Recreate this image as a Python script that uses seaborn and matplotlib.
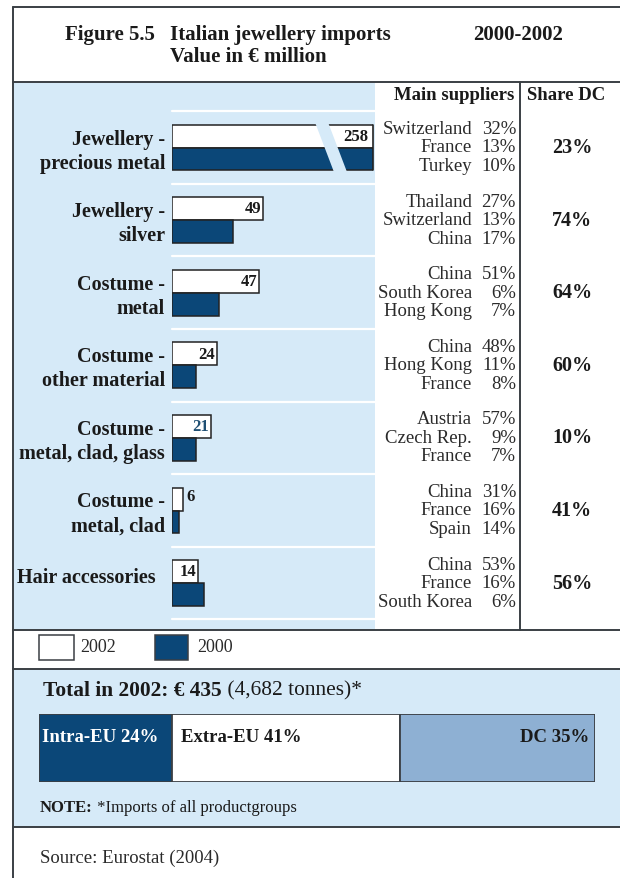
import matplotlib
matplotlib.use("Agg")
import matplotlib.pyplot as plt
from matplotlib.patches import Rectangle, Polygon
import seaborn as sns
import pandas as pd

# ---- data -------------------------------------------------------------
categories = [
    "Jewellery -\nprecious metal",
    "Jewellery -\nsilver",
    "Costume -\nmetal",
    "Costume -\nother material",
    "Costume -\nmetal, clad, glass",
    "Costume -\nmetal, clad",
    "Hair accessories",
]
imports_2002 = [258, 49, 47, 24, 21, 6, 14]
imports_2000 = [240, 33, 25, 13, 13, 4, 17]

supplier_names = [
    ["Switzerland", "France", "Turkey"],
    ["Thailand", "Switzerland", "China"],
    ["China", "South Korea", "Hong Kong"],
    ["China", "Hong Kong", "France"],
    ["Austria", "Czech Rep.", "France"],
    ["China", "France", "Spain"],
    ["China", "France", "South Korea"],
]
supplier_shares = [
    ["32%", "13%", "10%"],
    ["27%", "13%", "17%"],
    ["51%", "6%", "7%"],
    ["48%", "11%", "8%"],
    ["57%", "9%", "7%"],
    ["31%", "16%", "14%"],
    ["53%", "16%", "6%"],
]
share_dc = ["23%", "74%", "64%", "60%", "10%", "41%", "56%"]

origin_labels = ["Intra-EU", "Extra-EU", "DC"]
origin_shares = [24, 41, 35]

years = ["2002", "2000"]

# ---- style ------------------------------------------------------------
sns.set_style("white")
plt.rcParams["font.family"] = ["Liberation Serif", "DejaVu Serif"]

NAVY = "#0b4778"
PANEL = "#d6eaf8"
DC_BLUE = "#8eb0d3"
LINE = "#3a3f44"
TXT = "#1a1a1a"
GREY_TXT = "#2a2a2a"

W, H = 620, 879
fig = plt.figure(figsize=(W / 100, H / 100), dpi=100)
fig.patch.set_facecolor("white")

# background canvas in pixel units
bg = fig.add_axes([0, 0, 1, 1])
bg.set_xlim(0, W)
bg.set_ylim(H, 0)
bg.axis("off")

# panels
bg.add_patch(Rectangle((14, 84), 361, 547, facecolor=PANEL, edgecolor="none"))
bg.add_patch(Rectangle((14, 670), W - 14, 158, facecolor=PANEL, edgecolor="none"))

GROUP_Y0 = 148.5   # centre of the first product group (pixels)
STEP = 72.6        # distance between product groups (pixels)

# separators between product groups
for k in range(8):
    y = GROUP_Y0 - STEP / 2 + k * STEP
    bg.plot([172, 375], [y, y], color="white", lw=1.6, zorder=1)

# frame lines
lw = 1.4
bg.plot([13, W], [8, 8], color=LINE, lw=lw)
bg.plot([13, 13], [8, H], color=LINE, lw=lw)
for y in (83, 631, 670, 828):
    bg.plot([13, W], [y, y], color=LINE, lw=lw)
bg.plot([520, 520], [83, 631], color=LINE, lw=lw)

# header
bg.text(65, 35, "Figure 5.5", fontsize=15, fontweight="bold", color=TXT, va="center")
bg.text(170, 35, "Italian jewellery imports", fontsize=15, fontweight="bold", color=TXT, va="center")
bg.text(170, 57, "Value in € million", fontsize=15, fontweight="bold", color=TXT, va="center")
bg.text(563, 35, "2000-2002", fontsize=15, fontweight="bold", color=TXT, ha="right", va="center")

# column headings
bg.text(514, 96, "Main suppliers", fontsize=13.5, fontweight="bold", color=TXT, ha="right", va="center")
bg.text(566, 96, "Share DC", fontsize=13.5, fontweight="bold", color=TXT, ha="center", va="center")

# suppliers and DC share per group
for i in range(len(categories)):
    yc = GROUP_Y0 - 0.5 + i * STEP
    for j in range(3):
        yy = yc + (j - 1) * 18.5
        bg.text(472, yy, supplier_names[i][j], fontsize=13.5, color=GREY_TXT, ha="right", va="center")
        bg.text(516, yy, supplier_shares[i][j], fontsize=13.5, color=GREY_TXT, ha="right", va="center")
    bg.text(572, yc, share_dc[i], fontsize=14.5, fontweight="bold", color=TXT, ha="center", va="center")

# ---- grouped bar chart -----------------------------------------------
df = pd.DataFrame({
    "category": categories * 2,
    "year": [years[0]] * len(categories) + [years[1]] * len(categories),
    "value": imports_2002 + imports_2000,
})

x0, x1 = 172, 373
y0, y1 = GROUP_Y0 - STEP / 2, GROUP_Y0 + 6.5 * STEP
ax = fig.add_axes([x0 / W, 1 - y1 / H, (x1 - x0) / W, (y1 - y0) / H])
sns.barplot(
    data=df, y="category", x="value", hue="year", hue_order=years,
    order=categories, palette={"2002": "white", "2000": NAVY},
    width=0.63, edgecolor="#222222", linewidth=1.1, orient="h",
    legend=False, saturation=1, ax=ax,
)
XMAX = 108
ax.set_xlim(0, XMAX)
ax.set_ylim(6.5, -0.5)
ax.axis("off")
ax.patch.set_alpha(0)

# broken scale on the largest bars
ax.add_patch(Polygon([(76.5, -0.37), (83.5, -0.37), (94.5, 0.37), (87.5, 0.37)],
                     closed=True, facecolor=PANEL, edgecolor="none", zorder=5))
ax.plot([XMAX, XMAX], [-0.315, 0.315], color="#222222", lw=1.2, clip_on=False, zorder=6)

# value labels on the 2002 bars
for i, v in enumerate(imports_2002):
    col = "#1f4f73" if v == 21 else TXT
    if v > XMAX:
        ax.text(XMAX - 2.5, i - 0.16, str(v), fontsize=12, fontweight="bold",
                color=col, ha="right", va="center", zorder=7)
    elif v < 10:
        ax.text(v + 1.5, i - 0.2, str(v), fontsize=12, fontweight="bold",
                color=col, ha="left", va="center", zorder=7)
    else:
        ax.text(v - 1.2, i - 0.16, str(v), fontsize=12, fontweight="bold",
                color=col, ha="right", va="center", zorder=7)

# category labels
for i, name in enumerate(categories):
    yc = GROUP_Y0 + i * STEP
    if "\n" in name:
        top, bottom = name.split("\n")
        bg.text(165, yc - 9, top, fontsize=14.5, fontweight="bold", color=TXT, ha="right", va="center")
        bg.text(165, yc + 15, bottom, fontsize=14.5, fontweight="bold", color=TXT, ha="right", va="center")
    else:
        bg.text(17, yc - 6, name, fontsize=14.5, fontweight="bold", color=TXT, ha="left", va="center")

# ---- legend -----------------------------------------------------------
bg.add_patch(Rectangle((39, 636), 35, 25, facecolor="white", edgecolor=LINE, lw=1.1))
bg.text(80, 648, years[0], fontsize=13, color=GREY_TXT, va="center")
bg.add_patch(Rectangle((155, 636), 33, 25, facecolor=NAVY, edgecolor=LINE, lw=1.1))
bg.text(197, 648, years[1], fontsize=13, color=GREY_TXT, va="center")

# ---- total in 2002 ----------------------------------------------------
t1 = bg.text(43, 691, "Total in 2002: € 435", fontsize=15.4, fontweight="bold", color=TXT, va="center")
bg.annotate(" (4,682 tonnes)*", xy=(1, 0.5), xycoords=t1, fontsize=15.4, color=TXT,
            va="center", ha="left")

sx0, sx1, sy0, sy1 = 39, 595, 715, 783
ax2 = fig.add_axes([sx0 / W, 1 - sy1 / H, (sx1 - sx0) / W, (sy1 - sy0) / H])
seg_colors = [NAVY, "white", DC_BLUE]
left = 0
for lab, share, c in zip(origin_labels, origin_shares, seg_colors):
    ax2.barh(0, share, left=left, height=1, color=c, edgecolor=LINE, lw=1.3)
    left += share
ax2.set_xlim(0, sum(origin_shares))
ax2.set_ylim(0.5, -0.5)
ax2.axis("off")

lab_y = -0.17
ax2.text(0.6, lab_y, f"{origin_labels[0]} {origin_shares[0]}%", fontsize=13.5, fontweight="bold",
         color="white", ha="left", va="center")
ax2.text(origin_shares[0] + 1.5, lab_y, f"{origin_labels[1]} {origin_shares[1]}%", fontsize=13.5,
         fontweight="bold", color=TXT, ha="left", va="center")
ax2.text(sum(origin_shares) - 1.0, lab_y, f"{origin_labels[2]} {origin_shares[2]}%", fontsize=13.5,
         fontweight="bold", color=TXT, ha="right", va="center")

t2 = bg.text(40, 808, "NOTE:", fontsize=12, fontweight="bold", color=TXT, va="center")
bg.annotate(" *Imports of all productgroups", xy=(1, 0.5), xycoords=t2, fontsize=12,
            color=TXT, va="center", ha="left")

# ---- source -----------------------------------------------------------
bg.text(40, 858, "Source: Eurostat (2004)", fontsize=13.5, color=GREY_TXT, va="center")

fig.savefig("out.png", dpi=100)
